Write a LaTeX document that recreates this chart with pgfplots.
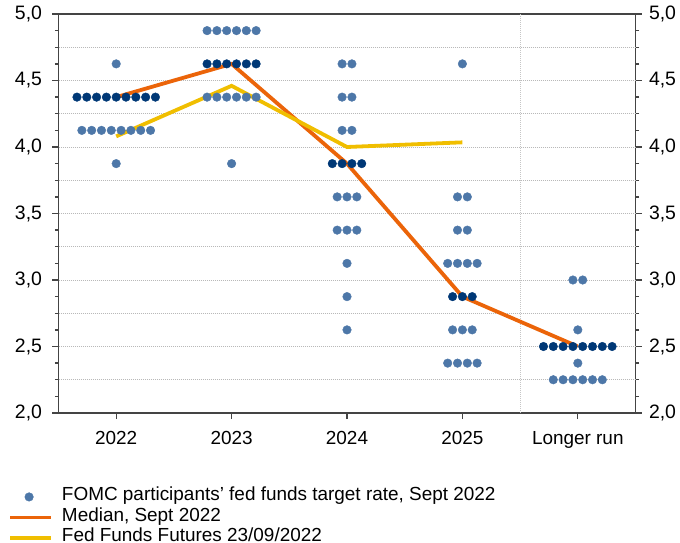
\documentclass[border=0pt]{standalone}
\usepackage{fontspec}
\setmainfont{Liberation Sans}
\usepackage{pgfplots}
\usepackage{pgfplotstable}
\pgfplotsset{compat=1.18}

\definecolor{dotlight}{HTML}{4D77A8}
\definecolor{dotdark}{HTML}{003876}
\definecolor{median}{HTML}{EB6409}
\definecolor{futures}{HTML}{F0BE00}
\definecolor{axgray}{HTML}{444444}

% FOMC dots, light (non-median) and dark (median row)
\pgfplotstableread{
x y
0 4.625
-0.2975 4.125
-0.2125 4.125
-0.1275 4.125
-0.0425 4.125
0.0425 4.125
0.1275 4.125
0.2125 4.125
0.2975 4.125
0 3.875
0.7875 4.875
0.8725 4.875
0.9575 4.875
1.0425 4.875
1.1275 4.875
1.2125 4.875
0.7875 4.375
0.8725 4.375
0.9575 4.375
1.0425 4.375
1.1275 4.375
1.2125 4.375
1 3.875
1.9575 4.625
2.0425 4.625
1.9575 4.375
2.0425 4.375
1.9575 4.125
2.0425 4.125
1.915 3.625
2 3.625
2.085 3.625
1.915 3.375
2 3.375
2.085 3.375
2 3.125
2 2.875
2 2.625
3 4.625
2.9575 3.625
3.0425 3.625
2.9575 3.375
3.0425 3.375
2.8725 3.125
2.9575 3.125
3.0425 3.125
3.1275 3.125
2.915 2.625
3 2.625
3.085 2.625
2.8725 2.375
2.9575 2.375
3.0425 2.375
3.1275 2.375
3.9575 3.0
4.0425 3.0
4 2.625
4 2.375
3.7875 2.25
3.8725 2.25
3.9575 2.25
4.0425 2.25
4.1275 2.25
4.2125 2.25
}\lightdots

\pgfplotstableread{
x y
-0.34 4.375
-0.255 4.375
-0.17 4.375
-0.085 4.375
0 4.375
0.085 4.375
0.17 4.375
0.255 4.375
0.34 4.375
0.7875 4.625
0.8725 4.625
0.9575 4.625
1.0425 4.625
1.1275 4.625
1.2125 4.625
1.8725 3.875
1.9575 3.875
2.0425 3.875
2.1275 3.875
2.915 2.875
3 2.875
3.085 2.875
3.7025 2.5
3.7875 2.5
3.8725 2.5
3.9575 2.5
4.0425 2.5
4.1275 2.5
4.2125 2.5
4.2975 2.5
}\darkdots

\pgfplotsset{
  fedbase/.style={
    scale only axis, width=577bp, height=399bp,
    xmin=-0.5, xmax=4.5, ymin=2, ymax=5,
    ytick={2,2.5,...,5},
    /pgf/number format/assume math mode=true,
    yticklabel style={font=\fontsize{19.5}{22}\selectfont,
      /pgf/number format/fixed, /pgf/number format/fixed zerofill,
      /pgf/number format/precision=1, /pgf/number format/use comma},
  },
  dotlegend/.style={legend image code/.code={\draw[##1] plot coordinates {(19bp,0bp)};}},
  linelegend/.style={legend image code/.code={\draw[##1] (0bp,0bp) -- (41bp,0bp);}},
}

\begin{document}
\begin{tikzpicture}
\begin{axis}[
  fedbase,
  axis line style={color=axgray, line width=1.3bp},
  tick style={color=axgray, line width=1.3bp},
  tick align=outside,
  major tick length=6bp,
  minor tick length=3.5bp,
  xtick pos=bottom,
  xtick={0,1,2,3,4},
  xticklabels={2022,2023,2024,2025,Longer run},
  xticklabel style={font=\fontsize{19}{22}\selectfont, /tikz/yshift=-9bp},
  yticklabel style={/tikz/xshift=-7bp},
  minor y tick num=3,
  extra y ticks={2.25,2.5,2.75,3,3.25,3.5,3.75,4,4.25,4.5,4.75},
  extra y tick labels={},
  extra y tick style={grid=major, major tick length=0pt,
    major grid style={color=gray!55, line width=0.8bp, dash pattern=on 1bp off 1bp}},
  legend style={at={(0,0)}, anchor=north west, xshift=-50.5bp, yshift=-73.5bp,
    draw=none, fill=none, inner sep=0pt, row sep=0pt,
    font=\fontsize{19}{22}\selectfont,
    nodes={inner sep=0pt, text height=14bp, text depth=6.5bp},
    column sep=9bp},
  legend cell align=left,
]
\draw[color=gray!45, line width=0.8bp, dash pattern=on 1bp off 1bp]
  (axis cs:3.5,2) -- (axis cs:3.5,5);

\addplot[only marks, mark=*, mark size=4.3bp, color=dotlight, dotlegend]
  table[x=x, y=y] {\lightdots};
\addlegendentry{FOMC participants’ fed funds target rate, Sept 2022}

\addplot[only marks, mark=*, mark size=4.3bp, color=dotdark, forget plot]
  table[x=x, y=y] {\darkdots};

\addplot[color=median, line width=3.8bp, mark=none, linelegend]
  coordinates {(0,4.375) (1,4.625) (2,3.875) (3,2.875) (4,2.5)};
\addlegendentry{Median, Sept 2022}

\addplot[color=futures, line width=3.8bp, mark=none, linelegend]
  coordinates {(0,4.08) (1,4.46) (2,4.0) (3,4.035)};
\addlegendentry{Fed Funds Futures 23/09/2022}
\end{axis}

\begin{axis}[
  fedbase,
  hide x axis,
  axis y line*=right,
  y axis line style={draw=none},
  major tick length=0pt,
  ytick style={draw=none},
  yticklabel style={/tikz/xshift=10bp},
]
\addplot[draw=none] coordinates {(0,2)};
\end{axis}

\pgfresetboundingbox
\path[use as bounding box] (-58.5bp,-130bp) rectangle (621.5bp,413bp);
\end{tikzpicture}
\end{document}
